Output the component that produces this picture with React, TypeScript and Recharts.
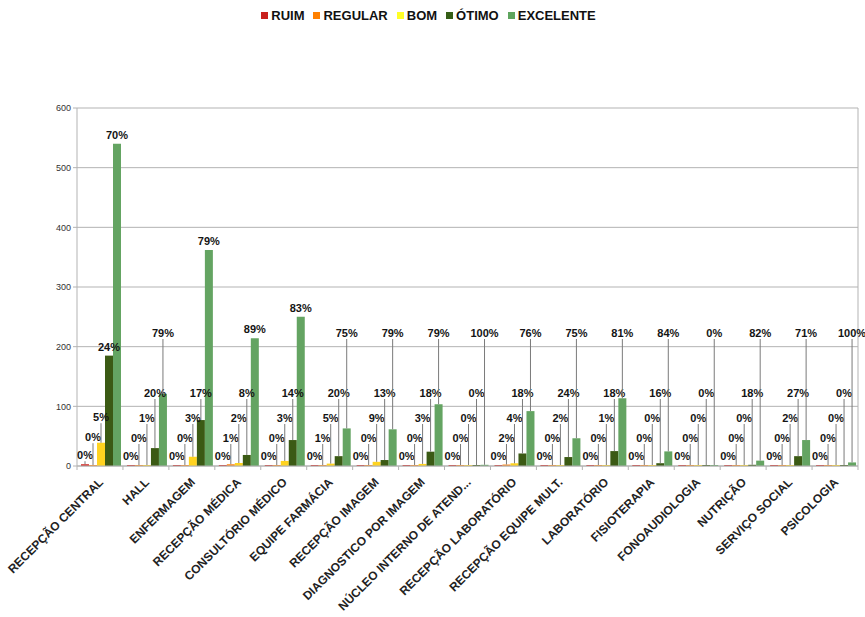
import { Bar, BarChart, CartesianGrid, LabelList, Legend, XAxis, YAxis } from 'recharts';

const categories = [
  'RECEPÇÃO CENTRAL',
  'HALL',
  'ENFERMAGEM',
  'RECEPÇÃO  MÉDICA',
  'CONSULTÓRIO MÉDICO',
  'EQUIPE FARMÁCIA',
  'RECEPÇÃO IMAGEM',
  'DIAGNOSTICO POR IMAGEM',
  'NÚCLEO INTERNO DE ATEND...',
  'RECEPÇÃO  LABORATÓRIO',
  'RECEPÇÃO EQUIPE MULT.',
  'LABORATÓRIO',
  'FISIOTERAPIA',
  'FONOAUDIOLOGIA',
  'NUTRIÇÃO',
  'SERVIÇO SOCIAL',
  'PSICOLOGIA',
];

const ruim = [3, 0, 0, 0, 0, 0, 0, 0, 0, 0, 0, 0, 0, 0, 0, 0, 0];
const regular = [1, 0, 0, 3, 0, 1, 0, 0, 0, 2.5, 0, 0, 0, 0, 0, 0, 0];
const bom = [39, 1.5, 15.5, 5, 8.5, 4, 7, 3.5, 0, 4.5, 1.3, 1.4, 0, 0, 0, 1.2, 0];
const otimo = [185, 30, 77, 18.5, 43.5, 16.5, 10, 24, 0, 21, 15, 25, 4.7, 0, 2, 16.5, 0];
const excelente = [540, 121, 362, 214, 250, 63, 61.5, 103.5, 2, 92, 46.5, 113.5, 24.5, 0, 9, 43.5, 6];

const ruimPct = ['0%', '0%', '0%', '0%', '0%', '0%', '0%', '0%', '0%', '0%', '0%', '0%', '0%', '0%', '0%', '0%', '0%'];
const regularPct = ['0%', '0%', '0%', '1%', '0%', '1%', '0%', '0%', '0%', '2%', '0%', '0%', '0%', '0%', '0%', '0%', '0%'];
const bomPct = ['5%', '1%', '3%', '2%', '3%', '5%', '9%', '3%', '0%', '4%', '2%', '1%', '0%', '0%', '0%', '2%', '0%'];
const otimoPct = ['24%', '20%', '17%', '8%', '14%', '20%', '13%', '18%', '0%', '18%', '24%', '18%', '16%', '0%', '18%', '27%', '0%'];
const excelentePct = ['70%', '79%', '79%', '89%', '83%', '75%', '79%', '79%', '100%', '76%', '75%', '81%', '84%', '0%', '82%', '71%', '100%'];

const yTicks = [0, 100, 200, 300, 400, 500, 600];

const series = [
  { key: 'ruim', name: 'RUIM', color: '#d42d28', legendColor: '#c9211e', values: ruim, labels: ruimPct },
  { key: 'regular', name: 'REGULAR', color: '#ff8a1c', legendColor: '#ff8000', values: regular, labels: regularPct },
  { key: 'bom', name: 'BOM', color: '#ffd320', legendColor: '#ffff26', values: bom, labels: bomPct },
  { key: 'otimo', name: 'ÓTIMO', color: '#3b5a14', legendColor: '#355e16', values: otimo, labels: otimoPct },
  { key: 'excelente', name: 'EXCELENTE', color: '#64a462', legendColor: '#5ea55e', values: excelente, labels: excelentePct },
];

const data = categories.map((name, i) => ({
  name,
  ruim: ruim[i],
  regular: regular[i],
  bom: bom[i],
  otimo: otimo[i],
  excelente: excelente[i],
}));

const W = 865;
const H = 617;
const LEGEND_H = 30;
const PLOT_TOP = 108;
const PLOT_BOTTOM = 466;
const PX_PER_UNIT = (PLOT_BOTTOM - PLOT_TOP) / 600;
const FONT = '"Liberation Sans", Arial, sans-serif';
const GRID = '#b3b3b3';

// how far each label climbs above the one before it in the same group (px)
const STEPS = [0, 18, 20, 25, 60];
const PAD = 9;

const labelCenters = (index: number, baseline: number) => {
  const centers: number[] = [];
  series.forEach((s, j) => {
    const top = baseline - Math.max(s.values[index] * PX_PER_UNIT, 1);
    const own = top - PAD;
    centers.push(j === 0 ? own : Math.min(own, centers[j - 1] - STEPS[j]));
  });
  return centers;
};

const makeLabel = (si: number) => (props: any) => {
  const vb = props.viewBox || props;
  const x = Number(vb.x ?? props.x);
  const y = Number(vb.y ?? props.y);
  const w = Number(vb.width ?? props.width);
  const h = Number(vb.height ?? props.height);
  const index = props.index;
  if (index == null || Number.isNaN(x)) return null;
  const baseline = y + h;
  const top = y;
  const c = labelCenters(index, baseline)[si];
  const cx = x + w / 2;
  const lineTop = c + 6;
  return (
    <g>
      {top - lineTop > 3 && <line x1={cx} y1={top} x2={cx} y2={lineTop} stroke="#7a7a7a" strokeWidth={1} />}
      <text x={cx} y={c + 4} textAnchor="middle" fontFamily={FONT} fontSize={11} fontWeight={700} fill="#141414">
        {series[si].labels[index]}
      </text>
    </g>
  );
};

const CategoryTick = ({ x, y, payload, index }: any) => {
  const half = payload?.offset || 23;
  const tx = x + 4;
  const ty = y + 13;
  return (
    <g>
      <line x1={x - half} y1={y - 4} x2={x - half} y2={y} stroke={GRID} />
      {index === categories.length - 1 && <line x1={x + half} y1={y - 4} x2={x + half} y2={y} stroke={GRID} />}
      <text x={tx} y={ty} textAnchor="end" transform={`rotate(-45 ${tx} ${ty})`} fontFamily={FONT} fontSize={12} fontWeight={700} fill="#222">
        {payload.value}
      </text>
    </g>
  );
};

const LegendRow = () => (
  <div style={{ display: 'flex', justifyContent: 'center', alignItems: 'center', height: LEGEND_H, paddingLeft: 8, fontFamily: FONT }}>
    {series.map((s) => (
      <div key={s.key} style={{ display: 'flex', alignItems: 'center', marginRight: 9 }}>
        <span style={{ display: 'inline-block', width: 7, height: 7, background: s.legendColor, marginRight: 3 }} />
        <span style={{ fontSize: 13, fontWeight: 700, color: '#111' }}>{s.name}</span>
      </div>
    ))}
  </div>
);

export default function App() {
  return (
    <div style={{ position: 'absolute', left: 0, top: 0, width: W, height: H, background: '#fff' }}>
      <BarChart
        width={W}
        height={H}
        data={data}
        margin={{ top: PLOT_TOP - LEGEND_H, right: 7, left: 0, bottom: 0 }}
        barCategoryGap={4}
        barGap={0}
      >
        <CartesianGrid
          stroke={GRID}
          vertical
          verticalCoordinatesGenerator={({ offset, width }: any) => [
            offset && offset.width ? offset.left + offset.width : width - 7,
          ]}
        />
        <Legend verticalAlign="top" align="center" height={LEGEND_H} wrapperStyle={{ top: 0 }} content={() => <LegendRow />} />
        <XAxis
          dataKey="name"
          interval={0}
          height={H - PLOT_BOTTOM}
          tickLine={false}
          tickSize={4}
          tickMargin={0}
          axisLine={{ stroke: GRID }}
          tick={<CategoryTick />}
        />
        <YAxis
          width={77}
          domain={[0, 600]}
          ticks={yTicks}
          interval={0}
          tickSize={4}
          tickMargin={2}
          tickLine={{ stroke: GRID }}
          axisLine={{ stroke: GRID }}
          tick={{ fontSize: 9, fill: '#333', fontFamily: FONT }}
        />
        {series.map((s, si) => (
          <Bar key={s.key} dataKey={s.key} name={s.name} fill={s.color} minPointSize={1} isAnimationActive={false}>
            <LabelList dataKey={s.key} content={makeLabel(si)} />
          </Bar>
        ))}
      </BarChart>
    </div>
  );
}
